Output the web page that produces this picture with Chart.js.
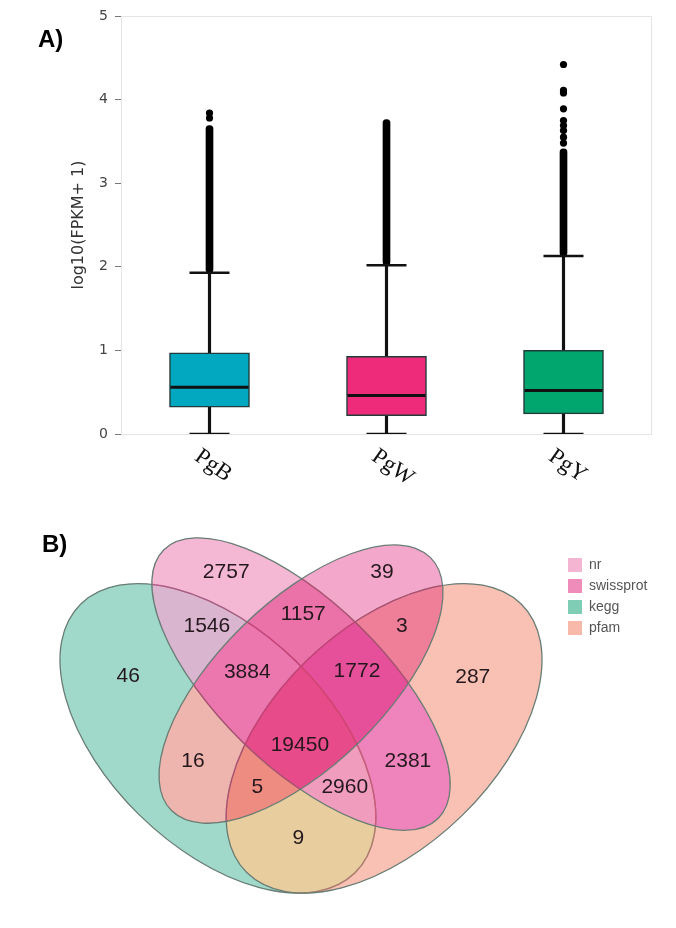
<!DOCTYPE html>
<html>
<head>
<meta charset="utf-8">
<script src="https://cdn.jsdelivr.net/npm/chart.js@4"></script>
<style>
  body { margin: 0; background: #fff; }
  #wrap { position: relative; width: 676px; height: 928px; overflow: hidden; }
  canvas { position: absolute; left: 0; }
  .tag { position: absolute; font: bold 24px "Liberation Sans", Arial, sans-serif; line-height: 1; color: #000; }
</style>
</head>
<body>
<div id="wrap">
  <canvas id="box" width="676" height="500" style="top:0"></canvas>
  <canvas id="venn" width="676" height="428" style="top:500px"></canvas>
  <div class="tag" style="left:38px;top:27px">A)</div>
  <div class="tag" style="left:42px;top:532px">B)</div>
</div>
<script>
// ---- panel A: expression boxplots ----
const groups = ["PgB", "PgW", "PgY"];
const whiskerLow = [0, 0, 0];
const q1 = [0.32, 0.22, 0.24];
const median = [0.56, 0.46, 0.52];
const q3 = [0.97, 0.93, 1.00];
const whiskerHigh = [1.93, 2.02, 2.13];
// outliers sit so close together they form a solid run up to this value
const outlierRunTop = [3.69, 3.76, 3.41];
const outliersPgB = [3.78, 3.84];
const outliersPgW = [];
const outliersPgY = [3.48, 3.55, 3.63, 3.69, 3.75, 3.89, 4.08, 4.11, 4.42];

const boxColors = ["#02a7c0", "#ee2a7a", "#01a56e"];

const outlierPoints = [
    ...outliersPgB.map(v => ({x: "PgB", y: v})),
    ...outliersPgW.map(v => ({x: "PgW", y: v})),
    ...outliersPgY.map(v => ({x: "PgY", y: v})),
];

const plotFrame = {
    id: "plotFrame",
    beforeDatasetsDraw(chart) {
        const {ctx, chartArea: a} = chart;
        ctx.save();
        ctx.strokeStyle = "#e4e4e4";
        ctx.lineWidth = 1;
        ctx.strokeRect(a.left + 0.5, a.top + 0.5, a.width - 1, a.height);
        ctx.restore();
    }
};

const slantedLabels = {
    id: "slantedLabels",
    afterDraw(chart) {
        const {ctx} = chart;
        const xs = chart.scales.x;
        ctx.save();
        ctx.font = '23px "Liberation Serif", "Times New Roman", serif';
        ctx.fillStyle = "#111";
        ctx.textAlign = "left";
        ctx.textBaseline = "top";
        groups.forEach((g, i) => {
            ctx.save();
            ctx.translate(xs.getPixelForTick(i) - 6, 445);
            ctx.rotate(35 * Math.PI / 180);
            ctx.fillText(g, 0, 0);
            ctx.restore();
        });
        ctx.restore();
    }
};

new Chart(document.getElementById("box"), {
    type: "bar",
    data: {
        labels: groups,
        datasets: [
            {
                label: "whisker",
                data: groups.map((g, i) => [whiskerLow[i], whiskerHigh[i]]),
                backgroundColor: "#111",
                barThickness: 2.5,
                grouped: false,
                order: 6,
            },
            {
                label: "outlier run",
                data: groups.map((g, i) => [whiskerHigh[i], outlierRunTop[i]]),
                backgroundColor: "#000",
                barThickness: 7,
                borderRadius: 3.5,
                borderSkipped: false,
                grouped: false,
                order: 5,
            },
            {
                label: "box",
                data: groups.map((g, i) => [q1[i], q3[i]]),
                backgroundColor: boxColors,
                borderColor: "#213b38",
                borderWidth: 1.5,
                borderSkipped: false,
                barThickness: 80,
                grouped: false,
                order: 4,
            },
            {
                type: "line",
                label: "outliers",
                data: outlierPoints,
                showLine: false,
                pointStyle: "circle",
                pointRadius: 3.6,
                pointBackgroundColor: "#000",
                pointBorderWidth: 0,
                order: 3,
            },
            {
                type: "line",
                label: "upper cap",
                data: whiskerHigh,
                showLine: false,
                pointStyle: "line",
                pointRadius: 20,
                pointBorderColor: "#111",
                pointBorderWidth: 2.5,
                order: 2,
            },
            {
                type: "line",
                label: "lower cap",
                data: whiskerLow,
                showLine: false,
                pointStyle: "line",
                pointRadius: 20,
                pointBorderColor: "#111",
                pointBorderWidth: 2.5,
                order: 2,
            },
            {
                type: "line",
                label: "median",
                data: median,
                showLine: false,
                pointStyle: "line",
                pointRadius: 39,
                pointBorderColor: "#111",
                pointBorderWidth: 3,
                order: 1,
            },
        ],
    },
    options: {
        responsive: false,
        animation: false,
        events: [],
        layout: {autoPadding: false, padding: {left: 66, right: 24, top: 16, bottom: 58}},
        plugins: {legend: {display: false}, tooltip: {enabled: false}},
        scales: {
            x: {
                grid: {display: false},
                border: {display: false},
                ticks: {display: false},
            },
            y: {
                min: 0,
                max: 5,
                ticks: {
                    stepSize: 1,
                    padding: 7,
                    color: "#444",
                    font: {family: "DejaVu Sans", size: 14},
                },
                grid: {drawOnChartArea: false, tickLength: 6, color: "#777"},
                border: {display: false},
                title: {
                    display: true,
                    text: "log10(FPKM+ 1)",
                    color: "#333",
                    font: {family: "DejaVu Sans", size: 16},
                    padding: {top: 3, bottom: 4},
                },
                afterFit: s => { s.width = 55; },
            },
        },
    },
    plugins: [plotFrame, slantedLabels],
});

// ---- panel B: annotation Venn diagram ----
const sets = ["nr", "swissprot", "kegg", "pfam"];
const setColors = ["#f4b5d2", "#ef8cba", "#7fcdb4", "#f8b9aa"];
const regionCounts = [2757, 39, 1546, 1157, 3, 46, 3884, 1772, 287, 19450, 16, 2381, 5, 2960, 9];
// which sets each region belongs to, same order as regionCounts
const regionSets = [
    ["nr"], ["swissprot"], ["nr", "kegg"], ["nr", "swissprot"], ["swissprot", "pfam"],
    ["kegg"], ["nr", "swissprot", "kegg"], ["nr", "swissprot", "pfam"], ["pfam"],
    ["nr", "swissprot", "kegg", "pfam"], ["swissprot", "kegg"], ["nr", "pfam"],
    ["swissprot", "kegg", "pfam"], ["nr", "kegg", "pfam"], ["kegg", "pfam"],
];
const regionColors = [
    "#f5b8d4", "#f3a8cb", "#d9b5d0", "#ea72a9", "#ef7f98",
    "#a0d9c9", "#eb77ae", "#e6509a", "#f8c1b4",
    "#e74b8a", "#eeb5ae", "#ee84bb",
    "#ef8c82", "#f09cbd", "#e8cd9f",
];

// layout only: ellipse [cx, cy, semi-major, semi-minor, angle] and label spots, in plot units
const ellipses = {
    nr: [0.50, 0.57, 0.35, 0.15, 135],
    swissprot: [0.50, 0.57, 0.33, 0.15, 45],
    kegg: [0.35, 0.47, 0.35, 0.20, 135],
    pfam: [0.65, 0.47, 0.35, 0.20, 45],
};
const strokeOrder = ["kegg", "pfam", "nr", "swissprot"];
const lineTints = {
    pfam: "rgba(240,120,100,0.55)",
    nr: "rgba(232,60,140,0.55)",
    swissprot: "rgba(232,40,110,0.55)",
};
const labelSpots = [
    [0.365, 0.776], [0.646, 0.776], [0.330, 0.677], [0.504, 0.699], [0.682, 0.677],
    [0.188, 0.585], [0.403, 0.592], [0.601, 0.594], [0.810, 0.583], [0.498, 0.458],
    [0.305, 0.428], [0.693, 0.428], [0.421, 0.380], [0.579, 0.380], [0.495, 0.287],
];

function ellipsePath(chart, name) {
    const {ctx} = chart;
    const xs = chart.scales.x, ys = chart.scales.y;
    const kx = xs.getPixelForValue(1) - xs.getPixelForValue(0);
    const ky = ys.getPixelForValue(0) - ys.getPixelForValue(1);
    const [cx, cy, a, b, rot] = ellipses[name];
    ctx.save();
    ctx.translate(xs.getPixelForValue(cx), ys.getPixelForValue(cy));
    ctx.scale(kx, ky);
    ctx.rotate(-rot * Math.PI / 180);
    ctx.moveTo(a, 0);
    ctx.ellipse(0, 0, a, b, 0, 0, 2 * Math.PI);
    ctx.restore();
}

const vennShapes = {
    id: "vennShapes",
    beforeUpdate(chart) {
        const lg = chart.legend;
        if (lg && !lg._fixedWidth) {
            const fit = lg.fit.bind(lg);
            lg.fit = () => { fit(); if (!lg.isHorizontal()) lg.width = 105; };
            lg._fixedWidth = true;
        }
    },
    beforeDatasetsDraw(chart) {
        const {ctx, width, height} = chart;
        regionSets.forEach((members, i) => {
            ctx.save();
            sets.forEach(s => {
                ctx.beginPath();
                if (members.includes(s)) {
                    ellipsePath(chart, s);
                    ctx.clip();
                } else {
                    ctx.rect(0, 0, width, height);
                    ellipsePath(chart, s);
                    ctx.clip("evenodd");
                }
            });
            ctx.fillStyle = regionColors[i];
            ctx.fillRect(0, 0, width, height);
            ctx.restore();
        });
        ctx.lineWidth = 1.3;
        strokeOrder.forEach((name, k) => {
            ctx.beginPath();
            ellipsePath(chart, name);
            ctx.strokeStyle = "#687c74";
            ctx.stroke();
            strokeOrder.slice(k + 1).forEach(over => {
                ctx.save();
                ctx.beginPath();
                ellipsePath(chart, over);
                ctx.clip();
                ctx.beginPath();
                ellipsePath(chart, name);
                ctx.strokeStyle = lineTints[over];
                ctx.stroke();
                ctx.restore();
            });
        });
    },
    afterDatasetsDraw(chart) {
        const {ctx} = chart;
        const meta = chart.getDatasetMeta(sets.length);
        ctx.save();
        ctx.font = '21px "Liberation Sans", Arial, sans-serif';
        ctx.fillStyle = "#24181d";
        ctx.textAlign = "center";
        ctx.textBaseline = "middle";
        meta.data.forEach((pt, i) => ctx.fillText(String(regionCounts[i]), pt.x, pt.y));
        ctx.restore();
    }
};

new Chart(document.getElementById("venn"), {
    type: "scatter",
    data: {
        datasets: [
            ...sets.map((s, i) => ({label: s, data: [], backgroundColor: setColors[i], borderWidth: 0})),
            {label: "counts", data: labelSpots.map(p => ({x: p[0], y: p[1]})), pointRadius: 0},
        ],
    },
    options: {
        responsive: false,
        animation: false,
        events: [],
        layout: {padding: {left: 0, right: 10, top: 0, bottom: 0}},
        plugins: {
            tooltip: {enabled: false},
            legend: {
                position: "right",
                align: "start",
                title: {display: true, text: "", padding: {top: 39, bottom: 0}, font: {size: 10}},
                labels: {
                    boxWidth: 14,
                    boxHeight: 14,
                    padding: 7,
                    color: "#555",
                    font: {family: "Liberation Sans", size: 14},
                    filter: item => item.datasetIndex < sets.length,
                },
            },
        },
        scales: {
            x: {type: "linear", display: false, bounds: "data", min: -0.04332, max: 0.96932},
            y: {type: "linear", display: false, bounds: "data", min: 0.12077, max: 0.90898},
        },
    },
    plugins: [vennShapes],
});
</script>
</body>
</html>
